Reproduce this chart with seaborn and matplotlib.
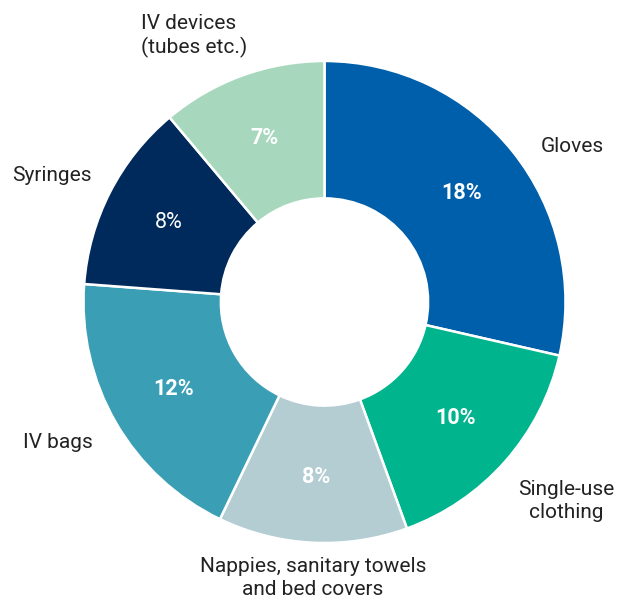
import matplotlib
matplotlib.use("Agg")
import matplotlib.pyplot as plt
import seaborn as sns

# ---- data ----
categories = ["Gloves", "Single-use\nclothing", "Nappies, sanitary towels\nand bed covers",
              "IV bags", "Syringes", "IV devices\n(tubes etc.)"]
values = [18, 10, 8, 12, 8, 7]
pct_labels = ["18%", "10%", "8%", "12%", "8%", "7%"]
colors = ["#005fab", "#00b48d", "#b3cdd3", "#3a9fb5", "#002a5b", "#a7d8bd"]

# ---- layout (label placement, in radius units) ----
label_layout = [
    (0.898, 0.647, "left"),
    (1.002, -0.826, "center"),
    (-0.048, -1.145, "center"),
    (-0.962, -0.585, "right"),
    (-0.967, 0.524, "right"),
    (-0.761, 1.104, "left"),
]
pct_weight = ["bold", "bold", "bold", "bold", "normal", "bold"]

sns.set_theme(style="white")
plt.rcParams["font.family"] = ["Roboto", "DejaVu Sans"]

fig = plt.figure(figsize=(6.17, 5.96), dpi=100)
ax = fig.add_axes([0, 0, 1, 1])

wedges, texts, autotexts = ax.pie(
    values,
    colors=colors,
    startangle=90,
    counterclock=False,
    radius=1.0,
    autopct="%1.0f%%",
    pctdistance=0.725,
    wedgeprops=dict(width=0.57, edgecolor="white", linewidth=1.8),
)

for t, lab, w in zip(autotexts, pct_labels, pct_weight):
    t.set_text(lab)
    t.set_color("white")
    t.set_fontsize(15.5)
    t.set_fontweight(w)

for (x, y, ha), cat in zip(label_layout, categories):
    ax.text(x, y, cat, ha=ha, va="center", multialignment=ha,
            fontsize=15, color="#222222", linespacing=1.22)

ax.set_xlim(-324.5 / 241, (617 - 324.5) / 241)
ax.set_ylim(-294 / 241, 302 / 241)
ax.set_aspect("auto")
ax.axis("off")

fig.savefig("out.png", dpi=100, facecolor="white")
